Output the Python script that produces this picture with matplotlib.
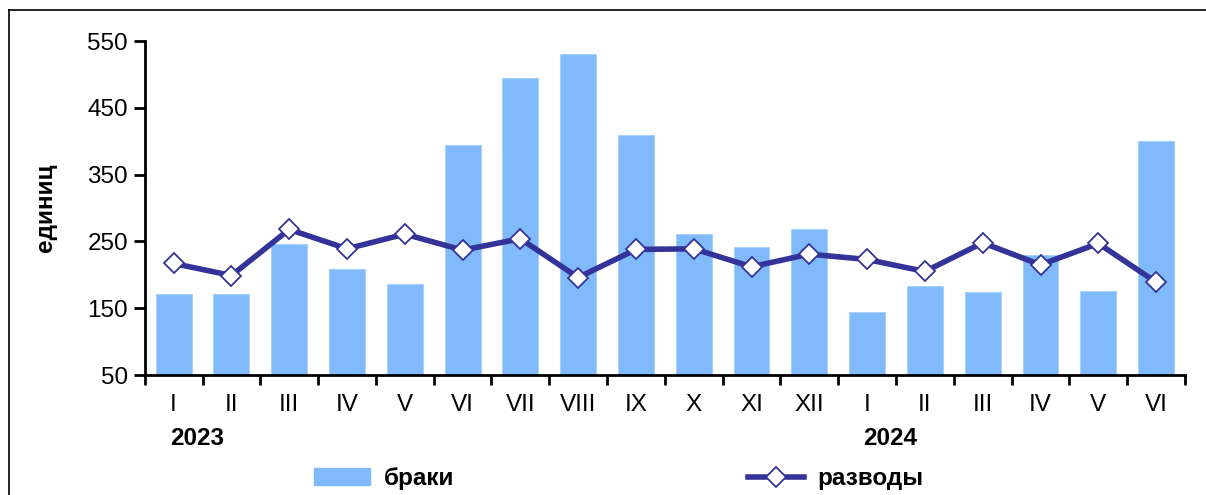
import numpy as np
import matplotlib.pyplot as plt
from matplotlib.lines import Line2D
from matplotlib.patches import Patch

plt.rcParams['font.family'] = ['Liberation Sans', 'DejaVu Sans']

# === DATA ===
months = ['I', 'II', 'III', 'IV', 'V', 'VI', 'VII', 'VIII', 'IX', 'X', 'XI', 'XII',
          'I', 'II', 'III', 'IV', 'V', 'VI']
marriages = [172, 172, 246, 209, 186, 395, 494, 530, 410, 261, 241, 268,
             144, 184, 174, 230, 176, 400]
divorces = [217, 199, 268, 239, 261, 237, 254, 196, 238, 239, 212, 231,
            223, 205, 248, 215, 247, 189]
years = ['2023', '2024']

bar_color = '#80BAFA'
line_color = '#333399'
fs = 17.5

fig = plt.figure(figsize=(12.06, 4.95), dpi=100)
ax = fig.add_axes([0.120, 0.2424, 0.8626, 0.6746])

x = np.arange(len(months))
ax.bar(x, np.array(marriages) - 50, bottom=50, width=0.62, color=bar_color,
       edgecolor='#A8D0FC', linewidth=0.8, zorder=2)
ax.plot(x, divorces, color=line_color, linewidth=4, zorder=3,
        marker='D', markersize=10.5, markerfacecolor='white',
        markeredgecolor=line_color, markeredgewidth=1.3)

ax.set_xlim(-0.5, len(months) - 0.5)
ax.set_ylim(50, 550)
ax.set_yticks(np.arange(50, 551, 100))
ax.set_xticks(x)
ax.set_xticklabels(months, fontsize=fs)
ax.set_xticks(np.arange(-0.5, len(months), 1), minor=True)
ax.tick_params(axis='x', which='major', length=0, pad=14)
ax.tick_params(axis='x', which='minor', length=7, width=2, direction='out')
ax.tick_params(axis='y', length=8, width=2, direction='out', labelsize=fs, pad=4)

for s in ['top', 'right']:
    ax.spines[s].set_visible(False)
ax.spines['left'].set_linewidth(2)
ax.spines['bottom'].set_linewidth(2)

ax.set_ylabel('единиц', fontsize=fs, fontweight='bold', labelpad=22)

# year labels under first month of each year
ax.text(0.4, -0.19, years[0], transform=ax.get_xaxis_transform(),
        ha='center', va='center', fontsize=fs, fontweight='bold')
ax.text(12.4, -0.19, years[1], transform=ax.get_xaxis_transform(),
        ha='center', va='center', fontsize=fs, fontweight='bold')

handles = [Patch(facecolor=bar_color, edgecolor=bar_color),
           Line2D([0], [0], color=line_color, linewidth=4, marker='D',
                  markersize=10.5, markerfacecolor='white',
                  markeredgecolor=line_color, markeredgewidth=1.3)]
fig.legend(handles, ['браки', 'разводы'], loc='center', bbox_to_anchor=(0.513, 0.033),
           ncol=2, frameon=False, columnspacing=12.1, handlelength=2.3,
           handletextpad=0.55, prop={'size': fs, 'weight': 'bold'})

# frame lines (top and left)
fig.add_artist(Line2D([9 / 1206, 1], [1 - 10 / 495, 1 - 10 / 495],
                      transform=fig.transFigure, color='black', linewidth=1.2))
fig.add_artist(Line2D([9 / 1206, 9 / 1206], [0, 1 - 10 / 495],
                      transform=fig.transFigure, color='black', linewidth=1.2))

fig.savefig('out.png', dpi=100)
